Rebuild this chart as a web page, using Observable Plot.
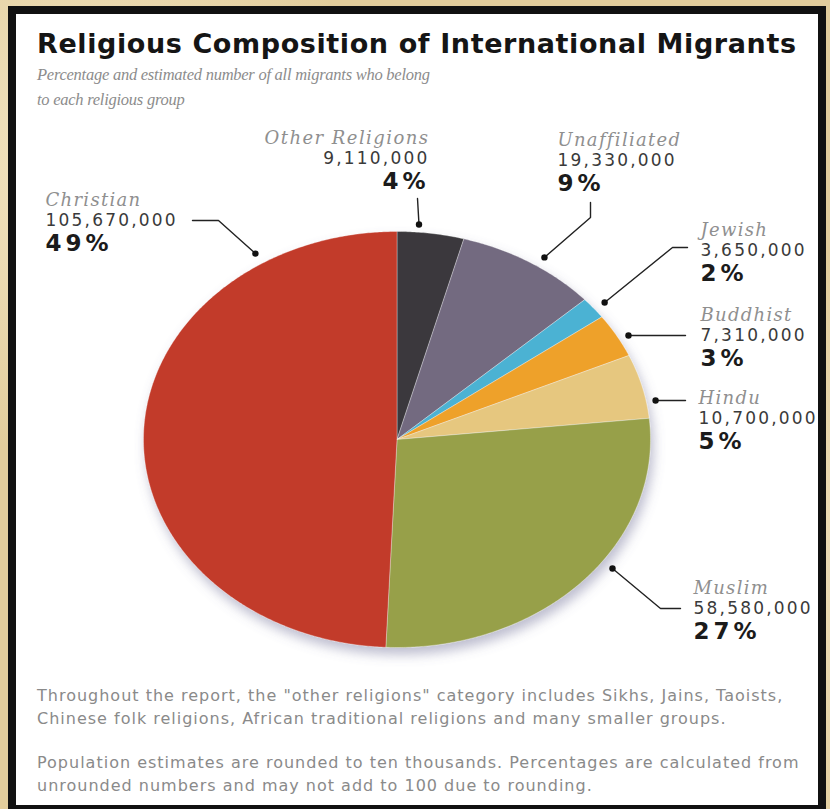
<!DOCTYPE html>
<html><head><meta charset="utf-8">
<script src="https://cdn.jsdelivr.net/npm/d3@7"></script>
<script src="https://cdn.jsdelivr.net/npm/@observablehq/plot@0.6"></script>
<style>
html,body{margin:0;padding:0}
body{width:830px;height:809px;position:relative;overflow:hidden;
 background:
  radial-gradient(circle at 10% 20%, rgba(245,232,200,0.9) 0, rgba(245,232,200,0) 30%),
  radial-gradient(circle at 90% 70%, rgba(240,225,190,0.9) 0, rgba(240,225,190,0) 35%),
  #e2cd9c;}
#frame{position:absolute;left:8px;top:6px;width:818px;height:803px;background:#111;}
#panel{position:absolute;left:16px;top:14px;width:802px;height:791px;background:#fff;}
.t{position:absolute;white-space:nowrap;margin:0;}
#title{left:37px;top:26px;font-family:"DejaVu Sans";font-weight:bold;font-size:27px;letter-spacing:0.6px;line-height:35px;color:#151515;}
.sub{left:37px;font-family:"Liberation Serif";font-style:italic;font-size:16.5px;letter-spacing:-0.25px;line-height:24px;color:#8c8c8c;}
.foot{left:37px;font-family:"DejaVu Sans";font-size:16px;letter-spacing:1px;line-height:23px;color:#8a8a8a;}
#chart{position:absolute;left:0;top:115px;}
</style></head>
<body>
<div id="frame"></div>
<div id="panel"></div>
<div class="t" id="title">Religious Composition of International Migrants</div>
<div class="t sub" style="top:63px">Percentage and estimated number of all migrants who belong</div>
<div class="t sub" style="top:88px">to each religious group</div>
<div id="chart"></div>
<div class="t foot" style="top:684px">Throughout the report, the "other religions" category includes Sikhs, Jains, Taoists,</div>
<div class="t foot" style="top:707px">Chinese folk religions, African traditional religions and many smaller groups.</div>
<div class="t foot" style="top:751px">Population estimates are rounded to ten thousands. Percentages are calculated from</div>
<div class="t foot" style="top:774px">unrounded numbers and may not add to 100 due to rounding.</div>
<script>
// ---- data ----
const religions = ["Other Religions", "Unaffiliated", "Jewish", "Buddhist", "Hindu", "Muslim", "Christian"];
const migrants  = [9110000, 19330000, 3650000, 7310000, 10700000, 58580000, 105670000];

// ---- styles ----
const sliceColors = ["#3a393c", "#736a80", "#4bb2d3", "#eea12c", "#e6c77f", "#97a04a", "#c23a29"];

// ---- label layout (page pixels); leader dot angle in degrees clockwise from 12 o'clock ----
const labelLayout = [
  {name: "Other Religions", lx: 429, anchor: "end",   ny: 158, dotA: 4.8,   dotR: 1.037, bends: [[417, 198]]},
  {name: "Unaffiliated",    lx: 557, anchor: "start", ny: 160, dotA: 33.6,  dotR: 1.051, bends: [[590, 217], [590, 202]]},
  {name: "Jewish",          lx: 700, anchor: "start", ny: 250, dotA: 51.2,  dotR: 1.051, bends: [[672, 247], [687, 247]]},
  {name: "Buddhist",        lx: 700, anchor: "start", ny: 335, dotA: 61.3,  dotR: 1.041, bends: [[685, 335]]},
  {name: "Hindu",           lx: 698, anchor: "start", ny: 418, dotA: 79.6,  dotR: 1.037, bends: [[685, 400]]},
  {name: "Muslim",          lx: 693, anchor: "start", ny: 608, dotA: 126.1, dotR: 1.052, bends: [[660, 608], [680, 608]]},
  {name: "Christian",       lx: 45,  anchor: "start", ny: 220, dotA: -32,   dotR: 1.054, bends: [[218, 220], [192, 220]]}
];

// chart frame (page px): pie spans x 143..650, y 231..647; svg placed at top 115
const svgTop = 115, W = 830, H = 560;
const mL = 143, mR = W - 650, mT = 231 - svgTop, mB = H - (647 - svgTop);
const cx = (143 + 650) / 2, cy = (231 + 647) / 2, rx = (650 - 143) / 2, ry = (647 - 231) / 2;
const ux = px => (px - cx) / rx;
const uy = py => (cy - py) / ry;

const rows = religions.map((name, i) => ({name, value: migrants[i]}));
const total = d3.sum(migrants);
const arcs = d3.pie().sort(null).value(d => d.value)(rows);

// slice polygons in unit-circle coordinates (0 at 12 o'clock, clockwise)
const slicePts = [];
for (const a of arcs) {
  const n = Math.max(2, Math.ceil((a.endAngle - a.startAngle) / (Math.PI / 360)));
  slicePts.push({name: a.data.name, x: 0, y: 0});
  for (let k = 0; k <= n; k++) {
    const t = a.startAngle + (a.endAngle - a.startAngle) * k / n;
    slicePts.push({name: a.data.name, x: Math.sin(t), y: Math.cos(t)});
  }
  slicePts.push({name: a.data.name, x: 0, y: 0});
}

const dots = [], leaders = [], names = [], numbers = [], percents = [];
for (const L of labelLayout) {
  const r = rows.find(d => d.name === L.name);
  const t = L.dotA * Math.PI / 180;
  const d = {x: L.dotR * Math.sin(t), y: L.dotR * Math.cos(t)};
  dots.push(d);
  leaders.push({name: L.name, ...d});
  for (const [bx, by] of L.bends) leaders.push({name: L.name, x: ux(bx), y: uy(by)});
  names.push({x: ux(L.lx), y: uy(L.ny - 20.5), text: r.name, anchor: L.anchor});
  numbers.push({x: ux(L.lx), y: uy(L.ny), text: d3.format(",")(r.value), anchor: L.anchor});
  percents.push({x: ux(L.lx), y: uy(L.ny + 23), text: Math.round(r.value / total * 100) + "%", anchor: L.anchor});
}

const textMarks = (data, opts) => ["start", "end"].map(anc =>
  Plot.text(data.filter(d => d.anchor === anc), {x: "x", y: "y", text: "text", textAnchor: anc, ...opts}));

const svg = Plot.plot({
  width: W, height: H,
  marginLeft: mL, marginRight: mR, marginTop: mT, marginBottom: mB,
  x: {domain: [-1, 1], axis: null},
  y: {domain: [-1, 1], axis: null},
  color: {domain: religions, range: sliceColors},
  style: {background: "transparent", overflow: "visible"},
  marks: [
    Plot.line(slicePts, {x: "x", y: "y", z: "name", fill: "name", stroke: "#ffffff", strokeWidth: 0.6, strokeOpacity: 0.55, curve: "linear"}),
    Plot.line(leaders, {x: "x", y: "y", z: "name", stroke: "#222222", strokeWidth: 1.4}),
    Plot.dot(dots, {x: "x", y: "y", r: 3.2, fill: "#111111"}),
    ...textMarks(names, {fontFamily: "DejaVu Serif", fontStyle: "italic", fontSize: 18, fill: "#8f8f8f"}),
    ...textMarks(numbers, {fontFamily: "DejaVu Sans", fontSize: 17, fill: "#3a3a3a"}),
    ...textMarks(percents, {fontFamily: "DejaVu Sans", fontSize: 23, fontWeight: "bold", fill: "#1b1b1b"})
  ]
});

const sel = d3.select(svg);
// letter spacing per text group (names, numbers, percents; start + end each)
const spacing = [1.3, 1.45, 2.2, 2.2, 4, 4];
sel.selectAll('g[aria-label="text"]').each(function(_, i) { d3.select(this).attr("letter-spacing", spacing[i] + "px"); });
// soft drop shadow under the pie
const defs = sel.insert("defs", ":first-child");
const f = defs.append("filter").attr("id", "pieShadow").attr("x", "-20%").attr("y", "-20%").attr("width", "140%").attr("height", "140%");
f.append("feDropShadow").attr("dx", 3).attr("dy", 7).attr("stdDeviation", 6).attr("flood-color", "#6d7096").attr("flood-opacity", 0.45);
const lineGroups = sel.selectAll('g[aria-label="line"]').nodes();
if (lineGroups.length) d3.select(lineGroups[0]).attr("filter", "url(#pieShadow)");

document.getElementById("chart").appendChild(svg);
</script>
</body></html>
